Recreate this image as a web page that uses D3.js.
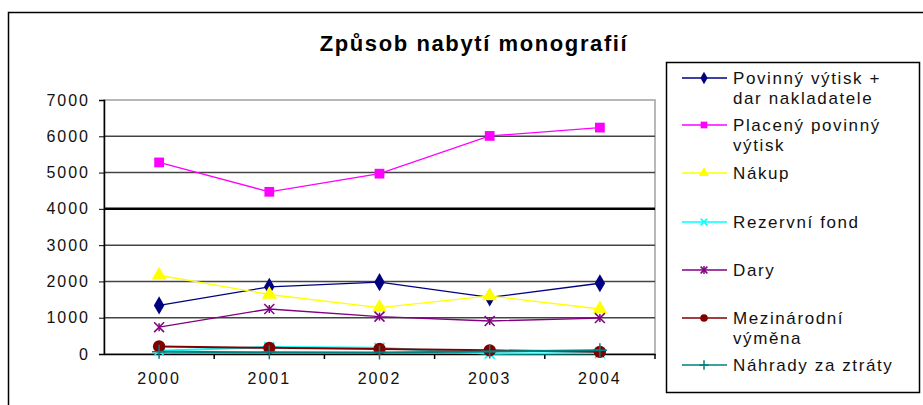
<!DOCTYPE html>
<html>
<head>
<meta charset="utf-8">
<script src="https://cdn.jsdelivr.net/npm/d3@7"></script>
<style>
  body { margin: 0; background: #fff; }
  svg { display: block; font-family: "Liberation Sans", Arial, sans-serif; }
</style>
</head>
<body>
<div id="chart"></div>
<script>
var years = ["2000", "2001", "2002", "2003", "2004"];
var yTicks = [0, 1000, 2000, 3000, 4000, 5000, 6000, 7000];

var povinny = [1340, 1850, 1980, 1560, 1950];
var placeny = [5280, 4470, 4970, 6010, 6240];
var nakup = [2170, 1640, 1280, 1600, 1240];
var rezervni = [90, 190, 170, 10, 20];
var dary = [740, 1240, 1030, 910, 990];
var mezinarodni = [210, 170, 140, 100, 60];
var nahrady = [60, 50, 40, 70, 100];

var seriesNames = [["Povinný výtisk +", "dar nakladatele"], ["Placený povinný", "výtisk"], ["Nákup"],
    ["Rezervní fond"], ["Dary"], ["Mezinárodní", "výměna"], ["Náhrady za ztráty"]];
var seriesValues = [povinny, placeny, nakup, rezervni, dary, mezinarodni, nahrady];
var colors = ["#000080", "#ff00ff", "#ffff00", "#00ffff", "#800080", "#800000", "#008080"];
var symbols = ["diamond", "square", "triangle", "x", "star", "circle", "plus"];

var width = 923, height = 405;
var margin = {left: 104, right: 268, top: 100, bottom: 51};

var svg = d3.select("#chart").append("svg")
    .attr("width", width)
    .attr("height", height);

// outer chart border
svg.append("rect")
    .attr("x", 8.5).attr("y", 12.5)
    .attr("width", 940).attr("height", 420)
    .attr("fill", "none").attr("stroke", "#000").attr("stroke-width", 1.5);

svg.append("text")
    .attr("x", 474).attr("y", 51)
    .attr("text-anchor", "middle")
    .style("font-size", "22px").style("font-weight", "bold")
    .style("letter-spacing", "1.6px")
    .text("Způsob nabytí monografií");

var pw = width - margin.left - margin.right,
    ph = height - margin.top - margin.bottom;
var g = svg.append("g").attr("transform", "translate(" + margin.left + "," + margin.top + ")");

var x = d3.scaleBand().domain(years).range([0, pw]);
var y = d3.scaleLinear().domain([0, 7000]).range([ph, 0]);

// plot area border (top/right gray)
g.append("rect")
    .attr("x", 0).attr("y", 0).attr("width", pw).attr("height", ph)
    .attr("fill", "none").attr("stroke", "#a0a0a0").attr("stroke-width", 1.5);

// gridlines
g.selectAll(".grid")
    .data(yTicks.filter(function(d) { return d > 0 && d < 7000; }))
    .enter().append("line")
    .attr("x1", 0).attr("x2", pw)
    .attr("y1", function(d) { return y(d); })
    .attr("y2", function(d) { return y(d); })
    .attr("stroke", function(d) { return d == 4000 ? "#000" : "#444"; })
    .attr("stroke-width", function(d) { return d == 4000 ? 2.5 : 1.5; });

var yAxis = g.append("g")
    .call(d3.axisLeft(y).tickValues(yTicks).tickFormat(d3.format("d")).tickSize(5).tickPadding(9));
yAxis.select(".domain").attr("stroke", "#000").attr("stroke-width", 1.5);
yAxis.selectAll("text").style("font-size", "16px").style("letter-spacing", "2px").attr("fill", "#111");

var xAxis = g.append("g")
    .attr("transform", "translate(0," + ph + ")")
    .call(d3.axisBottom(x).tickSize(0).tickPadding(19));
xAxis.select(".domain").attr("stroke", "#000").attr("stroke-width", 1.5);
xAxis.selectAll("text").style("font-size", "16px").style("letter-spacing", "2px").attr("fill", "#111");
// category boundary ticks
g.selectAll(".xtick")
    .data(years.slice(1).concat(["end"]))
    .enter().append("line")
    .attr("x1", function(d, i) { return x.step() * (i + 1); })
    .attr("x2", function(d, i) { return x.step() * (i + 1); })
    .attr("y1", ph).attr("y2", ph + 5)
    .attr("stroke", "#000").attr("stroke-width", 1.5);

function drawMarker(sel, type, color, size) {
    if (type == "star") {
        sel.append("path").attr("d", d3.symbol().type(d3.symbolTimes).size(size * 0.7)())
            .attr("fill", "none").attr("stroke", color).attr("stroke-width", 1.5);
        sel.append("line").attr("x1", 0).attr("x2", 0).attr("y1", -4).attr("y2", 4)
            .attr("stroke", color).attr("stroke-width", 1.5);
    } else if (type == "x" || type == "plus") {
        var t = type == "x" ? d3.symbolTimes : d3.symbolPlus;
        sel.append("path").attr("d", d3.symbol().type(t).size(size * 0.7)())
            .attr("fill", "none").attr("stroke", color).attr("stroke-width", 1.5);
    } else {
        var s = {diamond: d3.symbolDiamond, square: d3.symbolSquare, triangle: d3.symbolTriangle,
            circle: d3.symbolCircle};
        sel.append("path").attr("d", d3.symbol().type(s[type]).size(size)()).attr("fill", color);
    }
}

var line = d3.line()
    .x(function(d, i) { return x(years[i]) + x.bandwidth() / 2; })
    .y(function(d) { return y(d); });

seriesValues.forEach(function(vals, k) {
    g.append("path")
        .datum(vals)
        .attr("d", line)
        .attr("fill", "none")
        .attr("stroke", colors[k])
        .attr("stroke-width", k >= 3 && k != 4 ? 2 : 1.3);
    vals.forEach(function(v, i) {
        var m = g.append("g")
            .attr("transform", "translate(" + (x(years[i]) + x.bandwidth() / 2) + "," + y(v) + ")");
        drawMarker(m, symbols[k], colors[k], k == 5 ? 120 : 95);
    });
});

// legend
var legend = svg.append("g");
legend.append("rect")
    .attr("x", 666.5).attr("y", 62.5).attr("width", 253).attr("height", 330)
    .attr("fill", "#fff").attr("stroke", "#000").attr("stroke-width", 1.5);
var legendY = [78, 125, 173, 222, 270, 318, 365];
seriesNames.forEach(function(lines, k) {
    var it = legend.append("g").attr("transform", "translate(0," + legendY[k] + ")");
    it.append("line").attr("x1", 682).attr("x2", 727).attr("y1", 0).attr("y2", 0)
        .attr("stroke", colors[k]).attr("stroke-width", 1.3);
    var m = it.append("g").attr("transform", "translate(704,0)");
    drawMarker(m, symbols[k], colors[k], 45);
    var t = it.append("text").attr("x", 733).attr("y", 6)
        .style("font-size", "17px").style("letter-spacing", "1.6px").attr("fill", "#111");
    lines.forEach(function(s, j) {
        t.append("tspan").attr("x", 733).attr("dy", j == 0 ? 0 : 20).text(s);
    });
});
</script>
</body>
</html>
